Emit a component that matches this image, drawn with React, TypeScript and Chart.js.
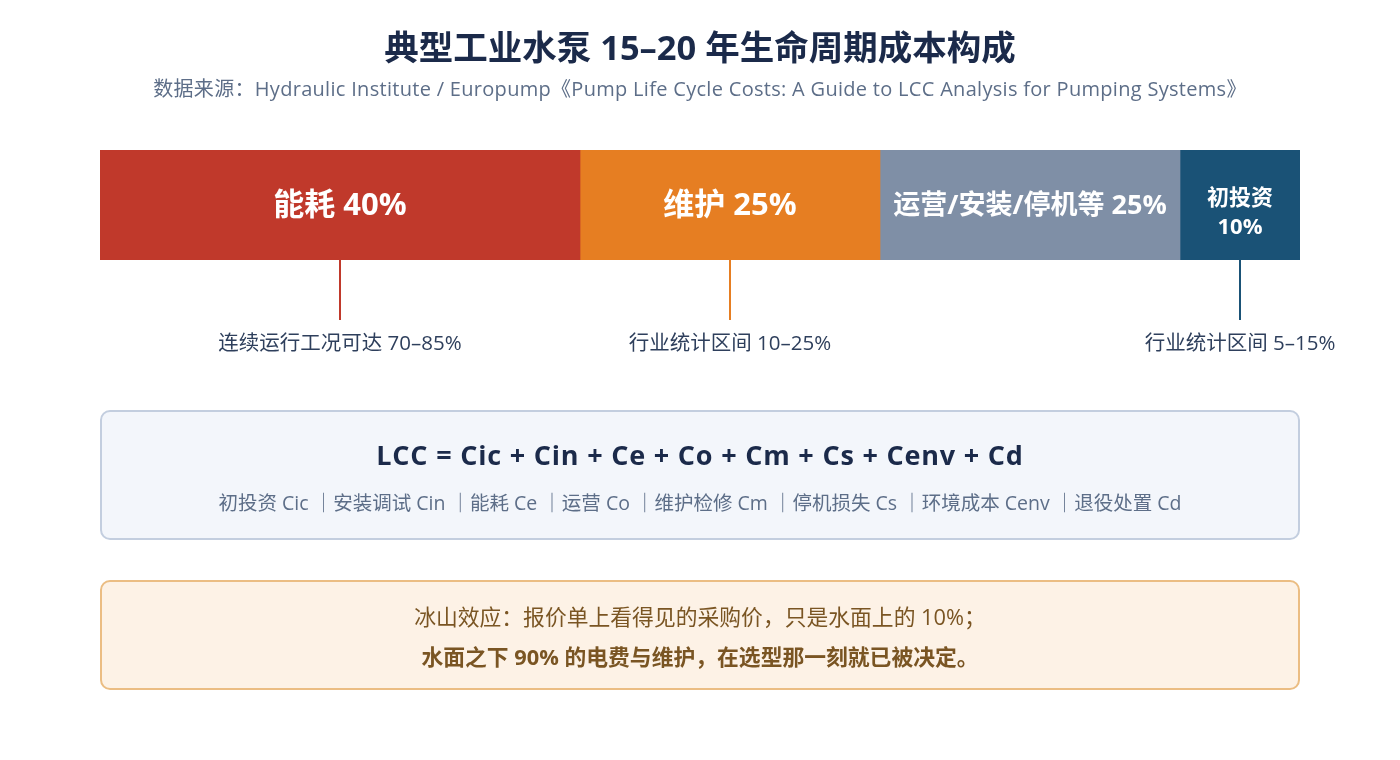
import React, { useEffect, useRef } from "react";
import { Chart, registerables } from "chart.js";

Chart.register(...registerables);

const categories = ["能耗", "维护", "运营/安装/停机等", "初投资"];
const shares = [40, 25, 25, 10];
const rangeNotes = ["连续运行工况可达 70–85%", "行业统计区间 10–25%", "", "行业统计区间 5–15%"];
const segmentColors = ["#c0392b", "#e67e22", "#7f8fa6", "#1a5276"];
const formulaTerms = ["Cic", "Cin", "Ce", "Co", "Cm", "Cs", "Cenv", "Cd"];
const termNames = ["初投资", "安装调试", "能耗", "运营", "维护检修", "停机损失", "环境成本", "退役处置"];

const FONT = '"Open Sans", "Noto Sans CJK SC", "Noto Sans", sans-serif';

const segmentLabelPlugin = {
  id: "segmentLabels",
  afterDatasetsDraw(chart: any) {
    const ctx = chart.ctx;
    ctx.save();
    chart.data.datasets.forEach((ds: any, i: number) => {
      const meta = chart.getDatasetMeta(i);
      const el = meta.data[0];
      if (!el) return;
      const cx = (el.x + el.base) / 2;
      const cy = el.y;
      const bottom = el.y + el.height / 2;
      ctx.fillStyle = "#ffffff";
      ctx.textAlign = "center";
      ctx.textBaseline = "middle";
      const name = categories[i];
      const pct = shares[i] + "%";
      if (i === 3) {
        ctx.font = `bold 22px ${FONT}`;
        ctx.fillText(name, cx, cy - 6);
        ctx.fillText(pct, cx, cy + 23);
      } else {
        ctx.font = `bold ${i === 2 ? 27 : 31}px ${FONT}`;
        ctx.fillText(name + " " + pct, cx, cy + 1);
      }
      const note = rangeNotes[i];
      if (note) {
        ctx.strokeStyle = segmentColors[i];
        ctx.lineWidth = 2;
        ctx.beginPath();
        ctx.moveTo(Math.round(cx), bottom);
        ctx.lineTo(Math.round(cx), bottom + 60);
        ctx.stroke();
        ctx.fillStyle = "#2e3f5c";
        ctx.font = `20.5px ${FONT}`;
        ctx.fillText(note, cx, bottom + 84);
      }
    });
    ctx.restore();
  },
};

function CostChart() {
  const ref = useRef<HTMLCanvasElement | null>(null);
  useEffect(() => {
    if (!ref.current) return;
    const chart = new Chart(ref.current, {
      type: "bar",
      data: {
        labels: ["LCC"],
        datasets: categories.map((c, i) => ({
          label: c,
          data: [shares[i]],
          backgroundColor: segmentColors[i],
          borderWidth: 0,
          barPercentage: 1,
          categoryPercentage: 1,
        })),
      },
      options: {
        indexAxis: "y",
        animation: false,
        responsive: false,
        maintainAspectRatio: false,
        layout: { padding: { left: 100, right: 100, top: 150, bottom: 500 } },
        scales: {
          x: { stacked: true, min: 0, max: 100, display: false },
          y: { stacked: true, display: false },
        },
        plugins: {
          legend: { display: false },
          tooltip: { enabled: false },
          title: { display: false },
        },
      },
      plugins: [segmentLabelPlugin],
    });
    return () => chart.destroy();
  }, []);
  return <canvas ref={ref} width={1400} height={760} style={{ position: "absolute", left: 0, top: 0 }} />;
}

export default function App() {
  useEffect(() => {
    document.body.style.margin = "0";
  }, []);
  const center: React.CSSProperties = {
    position: "absolute",
    left: 0,
    width: 1400,
    textAlign: "center",
    whiteSpace: "nowrap",
  };
  return (
    <div style={{ position: "absolute", left: 0, top: 0, width: 1400, height: 760, background: "#ffffff", fontFamily: FONT, overflow: "hidden" }}>
      <CostChart />
      <div style={{ ...center, top: 47 - 22, height: 44, lineHeight: "44px", fontSize: 34.5, fontWeight: 700, color: "#1b2a4a" }}>
        典型工业水泵 15–20 年生命周期成本构成
      </div>
      <div style={{ ...center, top: 89 - 14, height: 28, lineHeight: "28px", fontSize: 20, letterSpacing: 0.3, color: "#5d6e88" }}>
        数据来源：Hydraulic Institute / Europump《Pump Life Cycle Costs: A Guide to LCC Analysis for Pumping Systems》
      </div>
      <div
        style={{
          position: "absolute",
          left: 100,
          top: 410,
          width: 1200,
          height: 130,
          boxSizing: "border-box",
          background: "#f3f6fb",
          border: "2px solid #c3cedf",
          borderRadius: 10,
        }}
      />
      <div style={{ ...center, top: 455 - 18, height: 36, lineHeight: "36px", fontSize: 27, letterSpacing: 0.8, fontWeight: 700, color: "#1b2a4a" }}>
        {"LCC = " + formulaTerms.join(" + ")}
      </div>
      <div style={{ ...center, top: 503 - 14, height: 28, lineHeight: "28px", fontSize: 19.5, color: "#5d6e88" }}>
        {termNames.map((n, i) => n + " " + formulaTerms[i]).join(" ｜")}
      </div>
      <div
        style={{
          position: "absolute",
          left: 100,
          top: 580,
          width: 1200,
          height: 110,
          boxSizing: "border-box",
          background: "#fdf2e6",
          border: "2px solid #ebbd83",
          borderRadius: 10,
        }}
      />
      <div style={{ ...center, top: 617 - 15, height: 30, lineHeight: "30px", fontSize: 21.8, color: "#7a5523" }}>
        冰山效应：报价单上看得见的采购价，只是水面上的 10%；
      </div>
      <div style={{ ...center, top: 657 - 15, height: 30, lineHeight: "30px", fontSize: 21.8, fontWeight: 700, color: "#7a5523" }}>
        水面之下 90% 的电费与维护，在选型那一刻就已被决定。
      </div>
    </div>
  );
}
